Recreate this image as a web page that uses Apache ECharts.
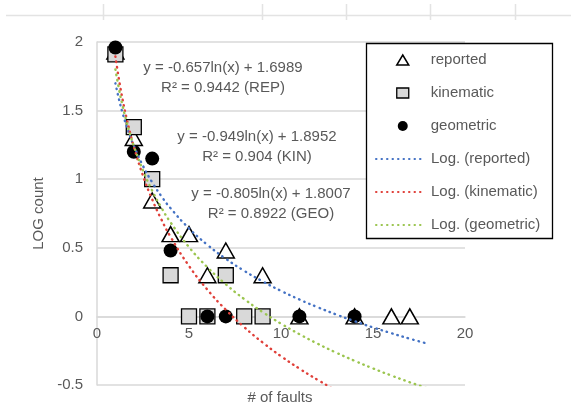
<!DOCTYPE html>
<html>
<head>
<meta charset="utf-8">
<script src="https://cdn.jsdelivr.net/npm/echarts@6/dist/echarts.min.js"></script>
<style>
html,body{margin:0;padding:0;background:#fff;}
#chart{width:571px;height:412px;}
</style>
</head>
<body>
<div id="chart"></div>
<script>
// ---- data ----
var reportedX = [1, 2, 3, 4, 5, 6, 7, 9, 11, 14, 16, 17];
var reportedY = [1.93, 1.30, 0.845, 0.60, 0.60, 0.30, 0.48, 0.30, 0, 0, 0, 0];
var kinematicX = [1, 2, 3, 4, 5, 6, 7, 8, 9];
var kinematicY = [1.91, 1.38, 1.0, 0.30, 0, 0, 0.30, 0, 0];
var geometricX = [1, 2, 3, 4, 6, 7, 11, 14];
var geometricY = [1.96, 1.20, 1.15, 0.48, 0, 0, 0, 0];
// trendline coefficients shown on the chart: y = a*ln(x) + b
var trendNames = ['Log. (reported)', 'Log. (kinematic)', 'Log. (geometric)'];
var trendA = [-0.657, -0.949, -0.805];
var trendB = [1.6989, 1.8952, 1.8007];
var trendX = [1, 1.2, 1.4, 1.6, 1.8, 2, 2.5, 3, 3.5, 4, 5, 6, 7, 8, 9, 10, 11, 12, 13, 14, 15, 16, 17, 18];
var eqLines = ['y = -0.657ln(x) + 1.6989', 'R² = 0.9442 (REP)',
               'y = -0.949ln(x) + 1.8952', 'R² = 0.904 (KIN)',
               'y = -0.805ln(x) + 1.8007', 'R² = 0.8922 (GEO)'];
var xTicks = [0, 5, 10, 15, 20];
var yTicks = [-0.5, 0, 0.5, 1, 1.5, 2];

function zip(xs, ys) { return xs.map(function (x, i) { return [x, ys[i]]; }); }
function trend(i) { return trendX.map(function (x) { return [x, trendA[i] * Math.log(x) + trendB[i]]; }); }

var FONT = 'Liberation Sans';
var GRAY = '#595959';
var trendColors = ['#4472C4', '#E0403A', '#9BC54F'];

var chart = echarts.init(document.getElementById('chart'), null, {renderer: 'canvas'});

var eqPos = [[223, 68], [223, 88], [257, 137], [257, 157], [271, 194], [271, 214]];
var graphics = [];
eqLines.forEach(function (t, i) {
  graphics.push({type: 'text', x: eqPos[i][0], y: eqPos[i][1], z: 10,
    style: {text: t, fill: GRAY, font: '15px "' + FONT + '"', textAlign: 'center', textVerticalAlign: 'middle'}});
});
graphics.push({type: 'text', x: 280, y: 398, style: {text: '# of faults', fill: GRAY, font: '15px "' + FONT + '"', textAlign: 'center', textVerticalAlign: 'middle'}});
// legend frame
graphics.push({type: 'rect', z: 3, shape: {x: 366.5, y: 43.5, width: 186, height: 195},
  style: {fill: '#ffffff', stroke: '#000000', lineWidth: 1.3}});
// spreadsheet cell borders at the top
graphics.push({type: 'line', shape: {x1: 6, y1: 15.5, x2: 571, y2: 15.5}, style: {stroke: '#e3e3e3', lineWidth: 1.5}});
[103, 262, 346, 430, 515].forEach(function (x) {
  graphics.push({type: 'line', shape: {x1: x + 0.5, y1: 4, x2: x + 0.5, y2: 20}, style: {stroke: '#e3e3e3', lineWidth: 1.5}});
});

var series = [
  {name: 'reported', type: 'scatter', data: zip(reportedX, reportedY), symbol: 'triangle', symbolSize: [17, 15],
   itemStyle: {color: '#ffffff', borderColor: '#000000', borderWidth: 1.5, opacity: 1}, z: 2},
  {name: 'kinematic', type: 'scatter', data: zip(kinematicX, kinematicY), symbol: 'rect', symbolSize: 15,
   itemStyle: {color: '#d9d9d9', borderColor: '#000000', borderWidth: 1.3, opacity: 1}, z: 2},
  {name: 'geometric', type: 'scatter', data: zip(geometricX, geometricY), symbol: 'circle', symbolSize: 14,
   itemStyle: {color: '#000000', opacity: 1}, z: 2}
];
trendNames.forEach(function (n, i) {
  series.push({name: n, type: 'line', data: trend(i), smooth: true, showSymbol: false, symbol: 'none',
    clip: true, z: 2.5, silent: true,
    itemStyle: {color: trendColors[i]},
    lineStyle: {color: trendColors[i], width: 2.4, type: [0.5, 5], cap: 'round'}});
});

var legendText = {color: GRAY, fontSize: 15, fontFamily: FONT, lineHeight: 16};

chart.setOption({
  animation: false,
  backgroundColor: '#ffffff',
  textStyle: {fontFamily: FONT},
  grid: {left: 97, right: 106, top: 42, bottom: 27, containLabel: false},
  xAxis: {type: 'value', min: xTicks[0], max: xTicks[xTicks.length - 1], interval: 5,
    offset: -68.75,
    axisLine: {show: true, onZero: false, lineStyle: {color: '#d9d9d9', width: 1.5}},
    axisTick: {show: false},
    axisLabel: {color: GRAY, fontSize: 15, fontFamily: FONT, margin: 10},
    splitLine: {show: false}},
  yAxis: {type: 'value', min: yTicks[0], max: yTicks[yTicks.length - 1], interval: 0.5,
    name: 'LOG count', nameLocation: 'middle', nameGap: 50, nameRotate: 90,
    nameTextStyle: {color: GRAY, fontSize: 15, fontFamily: FONT},
    axisLine: {show: true, lineStyle: {color: '#d9d9d9', width: 1.5}},
    axisTick: {show: false},
    axisLabel: {color: GRAY, fontSize: 15, fontFamily: FONT, margin: 14},
    splitLine: {show: true, lineStyle: {color: '#d9d9d9', width: 1.5}}},
  legend: [
    {orient: 'vertical', left: 396, top: 52, padding: 0, z: 5,
     itemWidth: 12, itemHeight: 10, itemGap: 17,
     textStyle: Object.assign({padding: [0, 0, 0, 17]}, legendText),
     data: [
       {name: 'reported', icon: 'triangle', itemStyle: {color: '#ffffff', borderColor: '#000000', borderWidth: 1.5}},
       {name: 'kinematic', icon: 'rect', itemStyle: {color: '#d9d9d9', borderColor: '#000000', borderWidth: 1.3}},
       {name: 'geometric', icon: 'circle', itemStyle: {color: '#000000', borderWidth: 0}}
     ]},
    {orient: 'vertical', left: 375, top: 151, padding: 0, z: 5,
     itemWidth: 45, itemHeight: 10, itemGap: 17,
     textStyle: Object.assign({padding: [0, 0, 0, 5]}, legendText),
     data: trendNames.map(function (n) {
       return {name: n, itemStyle: {color: 'rgba(0,0,0,0)', borderWidth: 0, opacity: 0}};
     })}
  ],
  graphic: graphics,
  series: series
});
</script>
</body>
</html>
